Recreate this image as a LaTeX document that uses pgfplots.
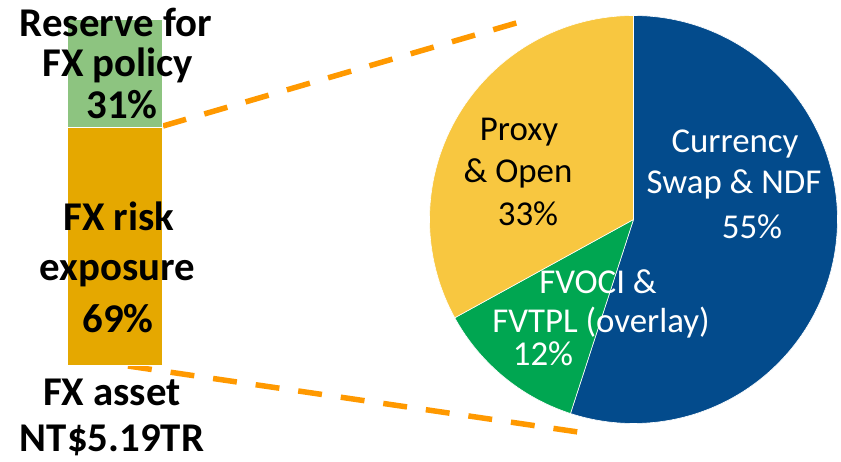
\documentclass[border=0pt]{standalone}
\usepackage{fontspec}
\setmainfont{Carlito}
\usepackage{pgfplots}
\usepackage{pgfplotstable}
\pgfplotsset{compat=1.18}

\definecolor{bargold}{HTML}{E5A800}
\definecolor{bargreen}{HTML}{8DC480}
\definecolor{pieblue}{HTML}{034B8C}
\definecolor{piegreen}{HTML}{00A651}
\definecolor{pieyellow}{HTML}{F8C740}
\definecolor{dashorange}{HTML}{FF9900}

% FX asset split (%)
\pgfplotstableread{
x risk reserve
1 69 31
}\bartab

% hedging split of the risk exposure (%)
\pgfplotstableread{
part value
swap 55
fvoci 12
proxy 33
}\pietab

\pgfplotstablegetelem{0}{value}\of\pietab \pgfmathsetmacro\aA{3.6*\pgfplotsretval}
\pgfplotstablegetelem{1}{value}\of\pietab \pgfmathsetmacro\aB{\aA+3.6*\pgfplotsretval}
\pgfplotstablegetelem{2}{value}\of\pietab \pgfmathsetmacro\aC{\aB+3.6*\pgfplotsretval}

\pgfplotsset{
  pxaxis/.style={
    at={(0,0)}, anchor=south west,
    width=841bp, height=462bp, scale only axis,
    xmin=0, xmax=841, ymin=0, ymax=462, y dir=reverse,
    hide axis, clip=false},
}

\begin{document}
\begin{tikzpicture}
\path[use as bounding box] (0,0) rectangle (841bp,462bp);

% connector lines
\begin{axis}[pxaxis]
  \addplot[dashorange, line width=5.5bp, dash pattern=on 24bp off 19bp]
    coordinates {(163,126) (530,19)};
  \addplot[dashorange, line width=5.5bp, dash pattern=on 24bp off 19bp]
    coordinates {(128,366) (578,432)};
\end{axis}

% stacked bar
\begin{axis}[
  at={(67bp,96bp)}, anchor=south west,
  width=95bp, height=346bp, scale only axis,
  xmin=0.5, xmax=1.5, ymin=0, ymax=100,
  ybar stacked, bar width=95bp, hide axis, clip=false]
  \addplot[fill=bargold, draw=white, line width=1bp] table[x=x, y=risk] {\bartab};
  \addplot[fill=bargreen, draw=white, line width=1bp] table[x=x, y=reserve] {\bartab};
\end{axis}

% pie
\begin{axis}[
  at={(633.5bp,242.5bp)}, anchor=center,
  width=408bp, height=408bp, scale only axis,
  xmin=-1, xmax=1, ymin=-1, ymax=1, hide axis, clip=false]
  \addplot[fill=pieblue, draw=white, line width=0.6bp, domain=0:\aA, samples=150, variable=\t]
    ({sin(t)},{cos(t)}) -- (axis cs:0,0) -- cycle;
  \addplot[fill=piegreen, draw=white, line width=0.6bp, domain=\aA:\aB, samples=50, variable=\t]
    ({sin(t)},{cos(t)}) -- (axis cs:0,0) -- cycle;
  \addplot[fill=pieyellow, draw=white, line width=0.6bp, domain=\aB:\aC, samples=100, variable=\t]
    ({sin(t)},{cos(t)}) -- (axis cs:0,0) -- cycle;
\end{axis}

% labels
\begin{axis}[pxaxis]
  \begin{scope}[every node/.style={anchor=base, inner sep=0pt, font=\fontsize{41}{41}\selectfont\bfseries}]
    \node at (axis cs:116,37) {Reserve for};
    \node at (axis cs:118,77) {FX policy};
    \node at (axis cs:122,118) {31\%};
    \node at (axis cs:119,230) {FX risk};
    \node at (axis cs:117.5,280) {exposure};
    \node at (axis cs:118,332) {69\%};
    \node at (axis cs:112,405) {FX asset};
    \node at (axis cs:112,451) {NT\$5.19TR};
  \end{scope}
  \begin{scope}[every node/.style={anchor=base, inner sep=0pt, font=\fontsize{35}{35}\selectfont}]
    \node[white] at (axis cs:735,152) {Currency};
    \node[white] at (axis cs:734,193) {Swap \& NDF};
    \node[white] at (axis cs:752,238) {55\%};
    \node at (axis cs:519,140) {Proxy};
    \node at (axis cs:518,182) {\& Open};
    \node at (axis cs:528,225) {33\%};
    \node[white] at (axis cs:598,293) {FVOCI \&};
    \node[white] at (axis cs:601,332) {FVTPL (overlay)};
    \node[white] at (axis cs:543,365) {12\%};
  \end{scope}
\end{axis}
\end{tikzpicture}
\end{document}
